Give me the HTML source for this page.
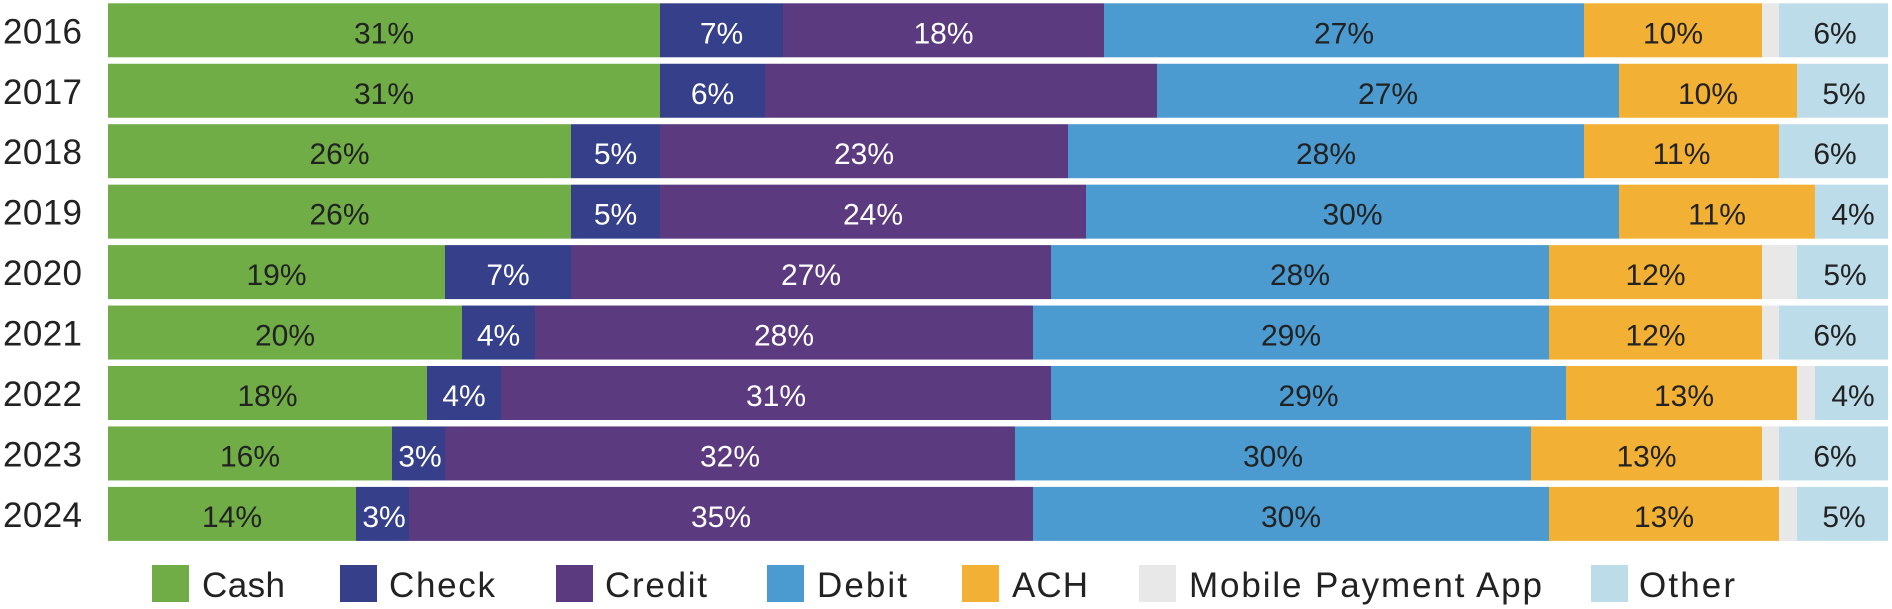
<!DOCTYPE html>
<html><head><meta charset="utf-8"><style>
html,body{margin:0;padding:0;background:#fff;}
svg{display:block;}
text{font-family:"Liberation Sans",Arial,sans-serif;}
</style></head><body>
<svg width="1892" height="609" viewBox="0 0 1892 609" xmlns="http://www.w3.org/2000/svg">
<rect width="1892" height="609" fill="#fff"/>
<g id="bars"></g>
<!-- Row 2016 -->
<g transform="translate(0,3.3)">
<rect x="108" y="0" width="552" height="54" fill="#70ad47"/>
<rect x="660" y="0" width="123" height="54" fill="#353f8a"/>
<rect x="783" y="0" width="321" height="54" fill="#5c3a7f"/>
<rect x="1104" y="0" width="480" height="54" fill="#4b9bd0"/>
<rect x="1584" y="0" width="178" height="54" fill="#f2b134"/>
<rect x="1762" y="0" width="17" height="54" fill="#e8e8e8"/>
<rect x="1779" y="0" width="109" height="54" fill="#bddcea"/>
<text x="3" y="40" font-size="35" fill="#222" textLength="79">2016</text>
<g font-size="30" text-anchor="middle" fill="#222">
<text x="384" y="40">31%</text><text x="721.5" y="40" fill="#fff">7%</text><text x="943.5" y="40" fill="#fff">18%</text><text x="1344" y="40">27%</text><text x="1673" y="40">10%</text><text x="1835" y="40">6%</text>
</g></g>
<!-- Row 2017 -->
<g transform="translate(0,63.75)">
<rect x="108" y="0" width="552" height="54" fill="#70ad47"/>
<rect x="660" y="0" width="105" height="54" fill="#353f8a"/>
<rect x="765" y="0" width="392" height="54" fill="#5c3a7f"/>
<rect x="1157" y="0" width="462" height="54" fill="#4b9bd0"/>
<rect x="1619" y="0" width="178" height="54" fill="#f2b134"/>
<rect x="1797" y="0" width="91" height="54" fill="#bddcea"/>
<text x="3" y="40" font-size="35" fill="#222" textLength="79">2017</text>
<g font-size="30" text-anchor="middle" fill="#222">
<text x="384" y="40">31%</text><text x="712.5" y="40" fill="#fff">6%</text><text x="1388" y="40">27%</text><text x="1708" y="40">10%</text><text x="1844" y="40">5%</text>
</g></g>
<!-- Row 2018 -->
<g transform="translate(0,124.2)">
<rect x="108" y="0" width="463" height="54" fill="#70ad47"/>
<rect x="571" y="0" width="89" height="54" fill="#353f8a"/>
<rect x="660" y="0" width="408" height="54" fill="#5c3a7f"/>
<rect x="1068" y="0" width="516" height="54" fill="#4b9bd0"/>
<rect x="1584" y="0" width="195" height="54" fill="#f2b134"/>
<rect x="1779" y="0" width="109" height="54" fill="#bddcea"/>
<text x="3" y="40" font-size="35" fill="#222" textLength="79">2018</text>
<g font-size="30" text-anchor="middle" fill="#222">
<text x="339.5" y="40">26%</text><text x="615.5" y="40" fill="#fff">5%</text><text x="864" y="40" fill="#fff">23%</text><text x="1326" y="40">28%</text><text x="1681.5" y="40">11%</text><text x="1835" y="40">6%</text>
</g></g>
<!-- Row 2019 -->
<g transform="translate(0,184.65)">
<rect x="108" y="0" width="463" height="54" fill="#70ad47"/>
<rect x="571" y="0" width="89" height="54" fill="#353f8a"/>
<rect x="660" y="0" width="426" height="54" fill="#5c3a7f"/>
<rect x="1086" y="0" width="533" height="54" fill="#4b9bd0"/>
<rect x="1619" y="0" width="196" height="54" fill="#f2b134"/>
<rect x="1815" y="0" width="73" height="54" fill="#bddcea"/>
<text x="3" y="40" font-size="35" fill="#222" textLength="79">2019</text>
<g font-size="30" text-anchor="middle" fill="#222">
<text x="339.5" y="40">26%</text><text x="615.5" y="40" fill="#fff">5%</text><text x="873" y="40" fill="#fff">24%</text><text x="1352.5" y="40">30%</text><text x="1717" y="40">11%</text><text x="1853" y="40">4%</text>
</g></g>
<!-- Row 2020 -->
<g transform="translate(0,245.1)">
<rect x="108" y="0" width="337" height="54" fill="#70ad47"/>
<rect x="445" y="0" width="126" height="54" fill="#353f8a"/>
<rect x="571" y="0" width="480" height="54" fill="#5c3a7f"/>
<rect x="1051" y="0" width="498" height="54" fill="#4b9bd0"/>
<rect x="1549" y="0" width="213" height="54" fill="#f2b134"/>
<rect x="1762" y="0" width="35" height="54" fill="#e8e8e8"/>
<rect x="1797" y="0" width="91" height="54" fill="#bddcea"/>
<text x="3" y="40" font-size="35" fill="#222" textLength="79">2020</text>
<g font-size="30" text-anchor="middle" fill="#222">
<text x="276.5" y="40">19%</text><text x="508" y="40" fill="#fff">7%</text><text x="811" y="40" fill="#fff">27%</text><text x="1300" y="40">28%</text><text x="1655.5" y="40">12%</text><text x="1845" y="40">5%</text>
</g></g>
<!-- Row 2021 -->
<g transform="translate(0,305.55)">
<rect x="108" y="0" width="354" height="54" fill="#70ad47"/>
<rect x="462" y="0" width="73" height="54" fill="#353f8a"/>
<rect x="535" y="0" width="498" height="54" fill="#5c3a7f"/>
<rect x="1033" y="0" width="516" height="54" fill="#4b9bd0"/>
<rect x="1549" y="0" width="213" height="54" fill="#f2b134"/>
<rect x="1762" y="0" width="17" height="54" fill="#e8e8e8"/>
<rect x="1779" y="0" width="109" height="54" fill="#bddcea"/>
<text x="3" y="40" font-size="35" fill="#222" textLength="79">2021</text>
<g font-size="30" text-anchor="middle" fill="#222">
<text x="285" y="40">20%</text><text x="498.5" y="40" fill="#fff">4%</text><text x="784" y="40" fill="#fff">28%</text><text x="1291" y="40">29%</text><text x="1655.5" y="40">12%</text><text x="1835" y="40">6%</text>
</g></g>
<!-- Row 2022 -->
<g transform="translate(0,366)">
<rect x="108" y="0" width="319" height="54" fill="#70ad47"/>
<rect x="427" y="0" width="74" height="54" fill="#353f8a"/>
<rect x="501" y="0" width="550" height="54" fill="#5c3a7f"/>
<rect x="1051" y="0" width="515" height="54" fill="#4b9bd0"/>
<rect x="1566" y="0" width="231" height="54" fill="#f2b134"/>
<rect x="1797" y="0" width="18" height="54" fill="#e8e8e8"/>
<rect x="1815" y="0" width="73" height="54" fill="#bddcea"/>
<text x="3" y="40" font-size="35" fill="#222" textLength="79">2022</text>
<g font-size="30" text-anchor="middle" fill="#222">
<text x="267.5" y="40">18%</text><text x="464" y="40" fill="#fff">4%</text><text x="776" y="40" fill="#fff">31%</text><text x="1308.5" y="40">29%</text><text x="1684" y="40">13%</text><text x="1853" y="40">4%</text>
</g></g>
<!-- Row 2023 -->
<g transform="translate(0,426.45)">
<rect x="108" y="0" width="284" height="54" fill="#70ad47"/>
<rect x="392" y="0" width="53" height="54" fill="#353f8a"/>
<rect x="445" y="0" width="570" height="54" fill="#5c3a7f"/>
<rect x="1015" y="0" width="516" height="54" fill="#4b9bd0"/>
<rect x="1531" y="0" width="231" height="54" fill="#f2b134"/>
<rect x="1762" y="0" width="17" height="54" fill="#e8e8e8"/>
<rect x="1779" y="0" width="109" height="54" fill="#bddcea"/>
<text x="3" y="40" font-size="35" fill="#222" textLength="79">2023</text>
<g font-size="30" text-anchor="middle" fill="#222">
<text x="250" y="40">16%</text><text x="420" y="40" fill="#fff">3%</text><text x="730" y="40" fill="#fff">32%</text><text x="1273" y="40">30%</text><text x="1646.5" y="40">13%</text><text x="1835" y="40">6%</text>
</g></g>
<!-- Row 2024 -->
<g transform="translate(0,486.9)">
<rect x="108" y="0" width="248" height="54" fill="#70ad47"/>
<rect x="356" y="0" width="53" height="54" fill="#353f8a"/>
<rect x="409" y="0" width="624" height="54" fill="#5c3a7f"/>
<rect x="1033" y="0" width="516" height="54" fill="#4b9bd0"/>
<rect x="1549" y="0" width="230" height="54" fill="#f2b134"/>
<rect x="1779" y="0" width="18" height="54" fill="#e8e8e8"/>
<rect x="1797" y="0" width="91" height="54" fill="#bddcea"/>
<text x="3" y="40" font-size="35" fill="#222" textLength="79">2024</text>
<g font-size="30" text-anchor="middle" fill="#222">
<text x="232" y="40">14%</text><text x="384" y="40" fill="#fff">3%</text><text x="721" y="40" fill="#fff">35%</text><text x="1291" y="40">30%</text><text x="1664" y="40">13%</text><text x="1844" y="40">5%</text>
</g></g>
<!-- Legend -->
<g font-size="35" fill="#222">
<rect x="152" y="565" width="37" height="37" fill="#70ad47"/><text x="202" y="597" textLength="83">Cash</text>
<rect x="340" y="565" width="37" height="37" fill="#353f8a"/><text x="389" y="597" textLength="106">Check</text>
<rect x="556" y="565" width="37" height="37" fill="#5c3a7f"/><text x="605" y="597" textLength="102">Credit</text>
<rect x="767" y="565" width="37" height="37" fill="#4b9bd0"/><text x="817" y="597" textLength="90">Debit</text>
<rect x="962" y="565" width="37" height="37" fill="#f2b134"/><text x="1012" y="597" textLength="76">ACH</text>
<rect x="1139" y="565" width="37" height="37" fill="#e8e8e8"/><text x="1189" y="597" textLength="353">Mobile Payment App</text>
<rect x="1591" y="565" width="37" height="37" fill="#bddcea"/><text x="1639" y="597" textLength="96">Other</text>
</g>
</svg>
</body></html>
